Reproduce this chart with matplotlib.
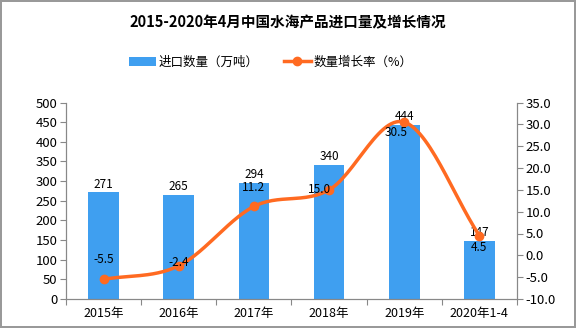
import numpy as np
import matplotlib
matplotlib.use("Agg")
import matplotlib.pyplot as plt

plt.rcParams['font.family'] = ['Noto Sans CJK SC', 'DejaVu Sans']

categories = ["2015年", "2016年", "2017年", "2018年", "2019年", "2020年1-4"]
imports = [271, 265, 294, 340, 444, 147]
growth = [-5.5, -2.4, 11.2, 15.0, 30.5, 4.5]

bar_color = "#3F9FF0"
line_color = "#FF6A21"


def catmull_rom(x, y, n=30):
    x = np.asarray(x, float)
    y = np.asarray(y, float)
    px = np.concatenate([[2 * x[0] - x[1]], x, [2 * x[-1] - x[-2]]])
    py = np.concatenate([[2 * y[0] - y[1]], y, [2 * y[-1] - y[-2]]])
    xs, ys = [], []
    t = np.linspace(0, 1, n)
    for i in range(1, len(px) - 2):
        for p, out in ((px, xs), (py, ys)):
            p0, p1, p2, p3 = p[i - 1], p[i], p[i + 1], p[i + 2]
            out.extend(0.5 * (2 * p1 + (-p0 + p2) * t
                              + (2 * p0 - 5 * p1 + 4 * p2 - p3) * t ** 2
                              + (-p0 + 3 * p1 - 3 * p2 + p3) * t ** 3))
    return np.array(xs), np.array(ys)


fig = plt.figure(figsize=(5.76, 3.28), dpi=100)
fig.patch.set_edgecolor("#999999")
fig.patch.set_linewidth(1.5)
ax = fig.add_axes([66 / 576, 1 - 299 / 328, (517 - 66) / 576, (299 - 102.5) / 328])
ax2 = ax.twinx()

x = np.arange(len(categories))
bars = ax.bar(x, imports, width=0.41, color=bar_color, label="进口数量（万吨）", zorder=2)
ax.set_xlim(-0.5, len(categories) - 0.5)
ax.set_ylim(0, 500)
ax.set_yticks(np.arange(0, 501, 50))
ax.set_xticks(np.arange(-0.5, len(categories), 1), minor=False)
ax.set_xticklabels([])
ax.set_xticks(x, minor=True)
ax.set_xticklabels(categories, minor=True)
ax.tick_params(axis="x", which="minor", length=0, pad=6, labelsize=9)
ax.tick_params(axis="x", which="major", length=4, color="#888888")
ax.tick_params(axis="y", labelsize=9.5, length=4, color="#888888", pad=2)

for v, xi in zip(imports, x):
    ax.text(xi, v + 5, str(v), ha="center", va="bottom", fontsize=8.5)

sx, sy = catmull_rom(x, growth)
ax2.plot(sx, sy, color=line_color, lw=2.5, zorder=3)
ax2.plot(x, growth, "o", color=line_color, ms=6, zorder=4)
ax2.plot([], [], color=line_color, lw=2.5, marker="o", ms=6, label="数量增长率（%）")
ax2.set_ylim(-10, 35)
ax2.set_yticks(np.arange(-10, 36, 5))
ax2.set_yticklabels([f"{v:.1f}" for v in np.arange(-10, 36, 5)])
ax2.tick_params(axis="y", labelsize=9.5, length=4, color="#888888", pad=2)

offsets = [(0.0, 4.6), (0.0, 0.7), (0.0, 4.3), (-0.13, 0.0), (-0.11, -2.3), (0.0, -2.8)]
for xi, v, (dx, dy) in zip(x, growth, offsets):
    ax2.text(xi + dx, v + dy, f"{v:.1f}", ha="center", va="center", fontsize=8.5, zorder=5)

for a in (ax, ax2):
    a.spines["top"].set_visible(False)
    for side in ("left", "right", "bottom"):
        a.spines[side].set_color("#888888")

fig.text(0.5, 1 - 22 / 328, "2015-2020年4月中国水海产品进口量及增长情况",
         ha="center", va="center", fontsize=10.5, fontweight="bold")

h1, l1 = ax.get_legend_handles_labels()
h2, l2 = ax2.get_legend_handles_labels()
fig.legend(h1 + h2, l1 + l2, loc="center", bbox_to_anchor=(0.47, 1 - 62 / 328),
           ncol=2, frameon=False, fontsize=9, handlelength=2.2, columnspacing=2.0,
           handletextpad=0.2)

fig.savefig("out.png", dpi=100)
